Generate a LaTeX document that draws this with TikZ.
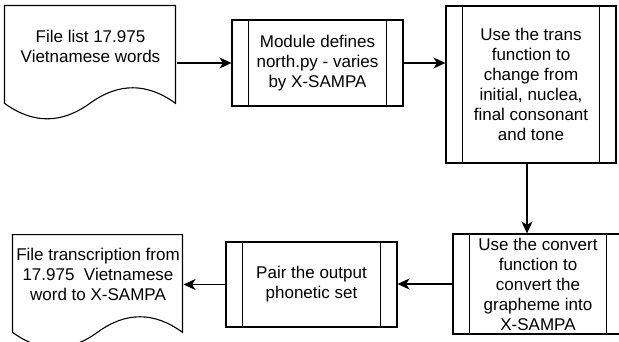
\documentclass[tikz,border=0pt]{standalone}
\usepackage{fontspec}
\setmainfont{Liberation Sans}
\usetikzlibrary{arrows.meta,calc}
\begin{document}
\begin{tikzpicture}[x=1pt,y=-1pt,line width=1.1pt,
  txt/.style={font=\fontsize{17}{20}\selectfont, align=center, inner sep=0pt},
  docbox/.style={rectangle, inner sep=0pt, minimum width=#1, minimum height=115pt},
  procbox/.style={draw, rectangle, inner sep=0pt, font=\fontsize{17}{20}\selectfont, align=center},
  flow/.style={-{Stealth[length=12pt,width=11pt,inset=3.5pt]}},
  ]
\clip (0,0) rectangle (619,342);
\useasboundingbox (0,0) rectangle (619,342);

% documents
\node[docbox=171pt] (doc1) at (90.5,62.5) {};
\begin{scope}[shift={(doc1.south west)}]
\draw (0,-115) -- (171,-115) -- (171,-17.25)
  .. controls (142.5,-37.95) and (114,-37.95) .. (85.5,-17.25)
  .. controls (57,3.45) and (28.5,3.45) .. (0,-17.25) -- cycle;
\end{scope}
\node[txt] (doc1text) at (90.5,46) {File list 17.975\\Vietnamese words};

\node[docbox=170pt] (doc2) at (98,291.5) {};
\begin{scope}[shift={(doc2.south west)}]
\draw (0,-115) -- (170,-115) -- (170,-17.25)
  .. controls (141.67,-37.95) and (113.33,-37.95) .. (85,-17.25)
  .. controls (56.67,3.45) and (28.33,3.45) .. (0,-17.25) -- cycle;
\end{scope}
\node[txt] (doc2text) at (98,274) {File transcription from\\17.975\ \ Vietnamese\\word to X-SAMPA};

% process boxes
\node[procbox, minimum width=171pt, minimum height=86pt] (b2) at (317.5,63)
  {Module defines\\north.py - varies\\by X-SAMPA};
\node[procbox, minimum width=170pt, minimum height=157pt] (b3) at (531,84.5)
  {Use the trans\\function to\\change from\\initial, nuclea,\\final consonant\\and tone};
\node[procbox, minimum width=170pt, minimum height=100pt] (b4) at (538,284)
  {Use the convert\\function to\\convert the\\grapheme into\\X-SAMPA};
\node[procbox, minimum width=171pt, minimum height=85pt] (b5) at (311.5,284.5)
  {Pair the output\\phonetic set};

\foreach \b in {b2,b3,b4,b5}{
  \draw ([xshift=17pt]\b.north west) -- ([xshift=17pt]\b.south west);
  \draw ([xshift=-17pt]\b.north east) -- ([xshift=-17pt]\b.south east);
}

% connectors
\draw[flow] (b2.west -| doc1.east) -- (b2.west);
\draw[flow] (b2.east) -- (b2.east -| b3.west);
\draw[flow] ([xshift=-4pt]b3.south) -- ([xshift=-4pt]b3.south |- b4.north);
\draw[flow] (b4.west) -- (b4.west -| b5.east);
\draw[flow] (b5.west) -- (b5.west -| doc2.east);
\end{tikzpicture}
\end{document}
